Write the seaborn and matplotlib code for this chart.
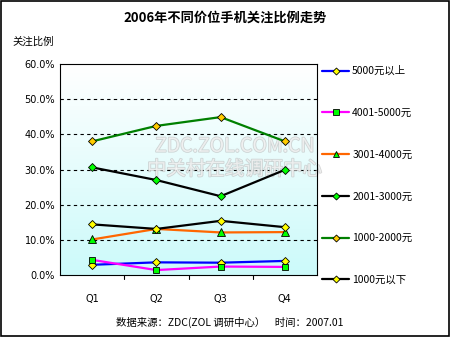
import numpy as np
import pandas as pd
import matplotlib
matplotlib.use("Agg")
import matplotlib.pyplot as plt
import matplotlib.patheffects as pe
from matplotlib.ticker import FuncFormatter
import seaborn as sns

quarters = ["Q1", "Q2", "Q3", "Q4"]
series_names = ["5000元以上", "4001-5000元", "3001-4000元", "2001-3000元", "1000-2000元", "1000元以下"]
above_5000 = [2.9, 3.6, 3.5, 4.0]
r4001_5000 = [4.3, 1.4, 2.4, 2.3]
r3001_4000 = [10.1, 13.1, 12.1, 12.2]
r2001_3000 = [30.6, 27.0, 22.4, 29.9]
r1000_2000 = [38.0, 42.4, 44.9, 38.0]
below_1000 = [14.4, 13.1, 15.4, 13.6]
y_ticks = [0, 10, 20, 30, 40, 50, 60]

values = [above_5000, r4001_5000, r3001_4000, r2001_3000, r1000_2000, below_1000]
line_colors = ["#0000FF", "#FF00FF", "#FF6600", "#000000", "#008000", "#000000"]
markers = ["D", "s", "^", "D", "D", "D"]
face_colors = ["#FFFF00", "#00FF00", "#00FF00", "#00FF00", "#FFCC00", "#FFFF00"]
marker_sizes = [4.2, 5, 5.5, 4.2, 4.2, 4.2]

sns.set_theme(style="white")
plt.rcParams["font.family"] = ["Noto Sans CJK SC", "DejaVu Sans"]
plt.rcParams.update({"text.color": "black", "xtick.color": "black",
                     "ytick.color": "black", "axes.labelcolor": "black"})

fig = plt.figure(figsize=(4.5, 3.37), dpi=100)
fig.patch.set_facecolor("white")
ax = fig.add_axes([60 / 450, 1 - 275 / 337, 257 / 450, 211 / 337])

# soft white-to-cyan gradient behind the plot
grad = np.linspace(0, 1, 256).reshape(-1, 1)
top = np.array([1.0, 1.0, 1.0])
bottom = np.array([0.80, 0.98, 0.98])
img = top + (bottom - top) * grad[..., None] * np.ones((1, 2, 1))
ax.imshow(img, extent=[0, 1, 0, 1], transform=ax.transAxes, aspect="auto", zorder=0)

for name, vals, lc, mk, fc, ms in zip(series_names, values, line_colors, markers, face_colors, marker_sizes):
    df = pd.DataFrame({"季度": quarters, "比例": vals})
    sns.lineplot(data=df, x="季度", y="比例", ax=ax, color=lc, linewidth=1.6,
                 marker=mk, markersize=ms, markerfacecolor=fc, markeredgecolor="black",
                 markeredgewidth=0.6, label=name, zorder=3, sort=False)

ax.set_xlim(-0.5, 3.5)
ax.set_ylim(0, 60)
ax.set_yticks(y_ticks)
ax.yaxis.set_major_formatter(FuncFormatter(lambda v, p: f"{v:.1f}%"))
for g in y_ticks[1:-1]:
    ax.axhline(g, color="black", linestyle=(0, (3, 3)), linewidth=0.8, zorder=1)

ax.set_xlabel("")
ax.set_ylabel("")
ax.tick_params(axis="both", labelsize=7, colors="black", length=0)
ax.tick_params(axis="x", pad=14)
ax.set_xticks(range(len(quarters)))
ax.set_xticklabels(quarters, fontfamily="DejaVu Sans")
for lab in ax.get_yticklabels():
    lab.set_fontfamily("DejaVu Sans")
# category separators on the bottom axis
for xb in [0.5, 1.5, 2.5]:
    ax.plot([xb, xb], [0, -1.2], color="black", linewidth=0.8, clip_on=False, zorder=4)
for s in ax.spines.values():
    s.set_visible(True)
    s.set_color("black")
    s.set_linewidth(0.8)

# watermark
wm_fx = dict(color="white", alpha=0.6, zorder=2, ha="center", va="center",
             path_effects=[pe.withStroke(linewidth=1.2, foreground="#bbbbbb")])
ax.text(0.68, 0.61, "ZDC.ZOL.COM.CN", transform=ax.transAxes, fontsize=14, **wm_fx)
ax.text(0.68, 0.50, "中关村在线调研中心", transform=ax.transAxes, fontsize=14, **wm_fx)

handles, labels = ax.get_legend_handles_labels()
ax.legend_.remove()
fig.legend(handles, labels, loc="upper left", bbox_to_anchor=(322 / 450, 1 - 66 / 337),
           frameon=False, fontsize=7.5, handlelength=2.6, handletextpad=0.3,
           labelspacing=3.05, borderpad=0, borderaxespad=0, markerscale=0.85)

fig.text(0.5, 1 - 18 / 337, "2006年不同价位手机关注比例走势", ha="center", va="center",
         fontsize=9.5, fontweight="bold")
fig.text(12 / 450, 1 - 42 / 337, "关注比例", ha="left", va="center", fontsize=7.5)
fig.text(230 / 450, 1 - 322 / 337, "数据来源：ZDC(ZOL 调研中心）    时间：2007.01",
         ha="center", va="center", fontsize=7.5)

# outer frame
fig.add_artist(plt.Rectangle((0.002, 0.003), 0.995, 0.994, transform=fig.transFigure,
                             fill=False, edgecolor="black", linewidth=1.2))

fig.savefig("out.png", dpi=100)
